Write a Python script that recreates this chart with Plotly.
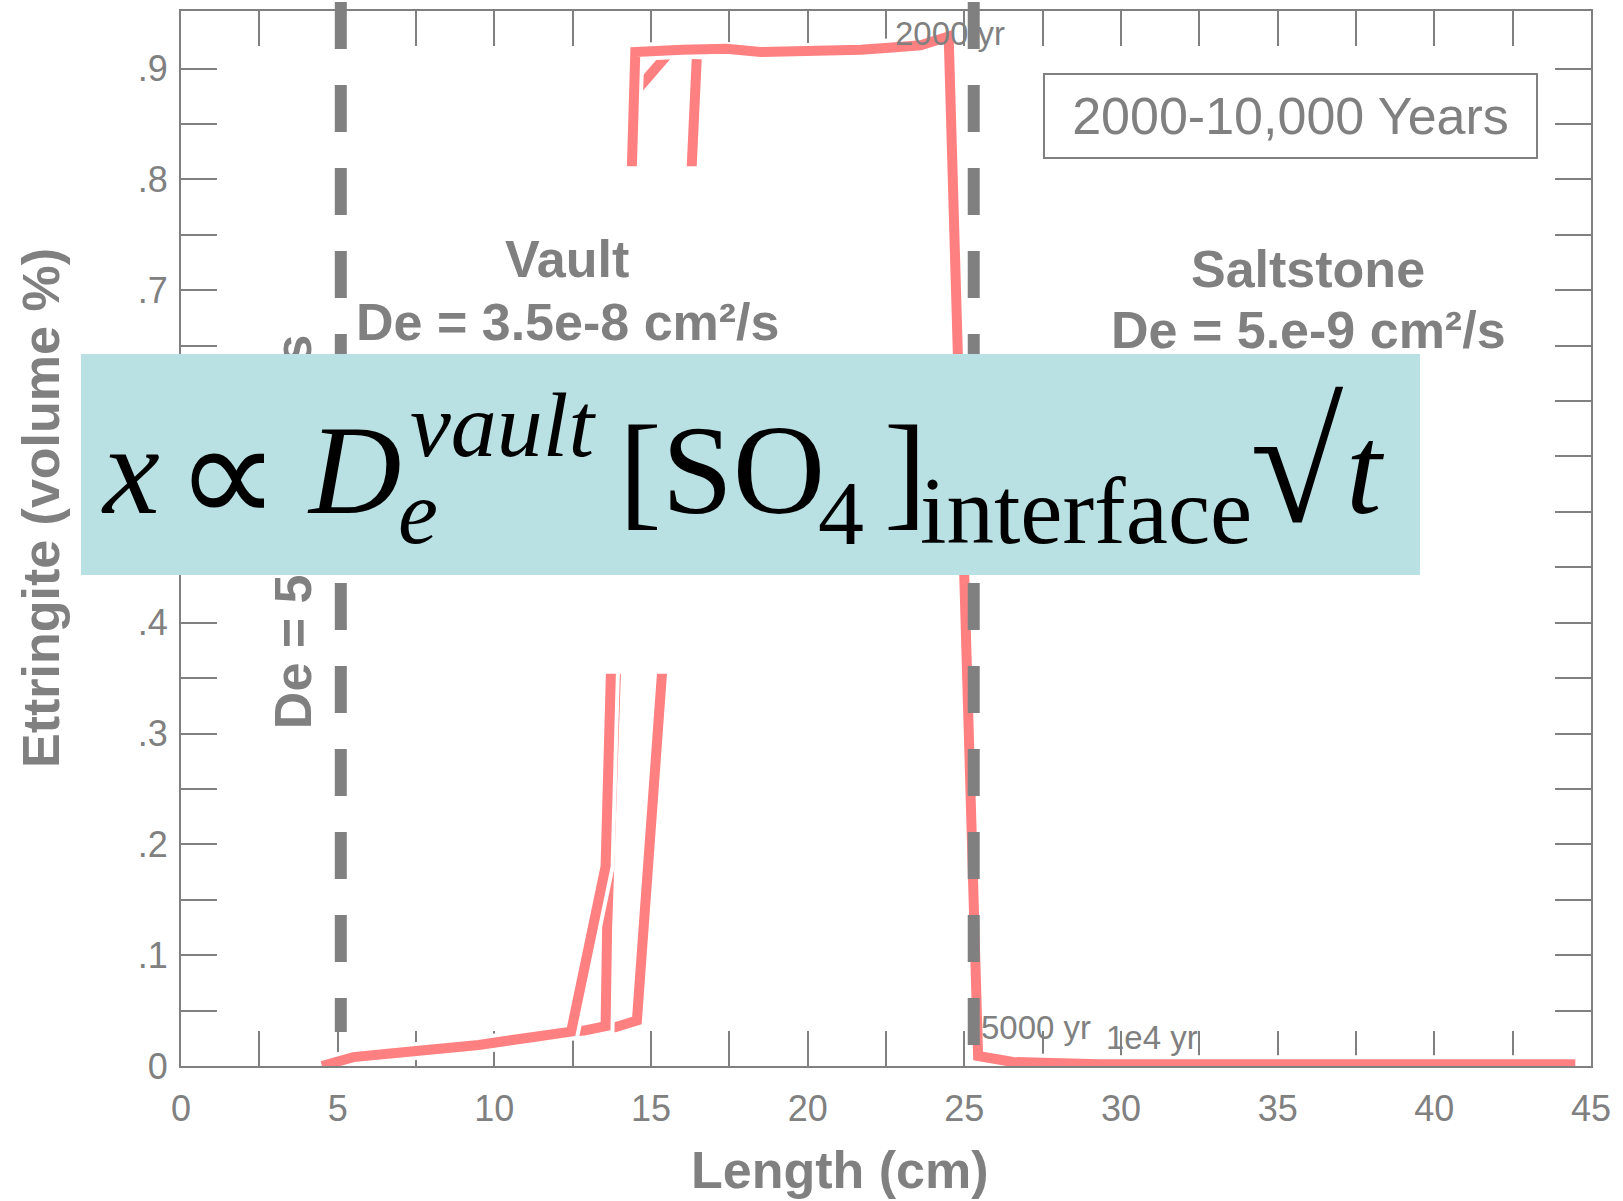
import plotly.graph_objects as go

# ---------------- data ----------------
x_2000yr = [4.5, 5.5, 6.6, 7.5, 9.5, 11.2, 12.45, 13.55, 13.72, 14.39, 14.5, 16.0, 17.4,
            18.5, 20.6, 21.7, 22.7, 23.6, 24.5, 24.77, 25.02, 25.25, 25.38, 25.44, 26.55,
            29.3, 44.5]
y_2000yr = [0.0, 0.008, 0.011, 0.013, 0.019, 0.026, 0.031, 0.18, 0.354, 0.812, 0.915, 0.917,
            0.918, 0.915, 0.915, 0.917, 0.919, 0.921, 0.929, 0.652, 0.438, 0.2, 0.03, 0.009,
            0.0036, 0.0015, 0.0015]
x_5000yr = [12.45, 12.86, 13.55, 13.6, 13.88, 14.4, 14.47, 15.6]
y_5000yr = [0.031, 0.032, 0.036, 0.125, 0.354, 0.80, 0.878, 0.915]
x_1e4yr = [13.5, 13.85, 14.55, 15.35, 16.3, 16.47]
y_1e4yr = [0.035, 0.035, 0.041, 0.354, 0.812, 0.915]

interfaces_x = [5.1, 25.3]          # dashed boundaries (cm)

x_tickvals = [i * 2.5 for i in range(19)]
x_ticktext = [str(int(v)) if v % 5 == 0 else "" for v in x_tickvals]
y_tickvals = [i * 0.05 for i in range(19)]
y_ticktext = ["0", "", ".1", "", ".2", "", ".3", "", ".4", "", ".5", "", ".6", "", ".7", "",
              ".8", "", ".9"]

curve_labels = [("2000 yr", 24.54, 0.932), ("5000 yr", 27.3, 0.035), ("1e4 yr", 31.0, 0.026)]

# ---------------- layout geometry / style ----------------
W, H = 1623, 1201
ML, MR, MT, MB = 181, 32, 9, 135
PW, PH = W - ML - MR, H - MT - MB
GRAY = "#808080"
SALMON = "#ff8080"
SANS = "Liberation Sans, Arial, sans-serif"
SERIF = "Liberation Serif, Times New Roman, serif"


def px(X):
    return (X - ML) / PW


def py(Y):
    return (H - MB - Y) / PH


fig = go.Figure()

for xs, ys, name in [(x_1e4yr, y_1e4yr, "1e4 yr"), (x_5000yr, y_5000yr, "5000 yr"),
                     (x_2000yr, y_2000yr, "2000 yr")]:
    fig.add_trace(go.Scatter(x=xs, y=ys, mode="lines", line=dict(color="white", width=18),
                             hoverinfo="skip", showlegend=False))
    fig.add_trace(go.Scatter(x=xs, y=ys, mode="lines", name=name,
                             line=dict(color=SALMON, width=10), showlegend=False))

shapes = []
# mask hiding the middle of the fronts (as in the original)
shapes.append(dict(type="rect", xref="x", yref="y", x0=13.3, x1=17.0, y0=0.354, y1=0.812,
                   fillcolor="white", line=dict(width=0), layer="above"))
for xv, ybot in zip(interfaces_x, [py(1032), py(1050)]):
    shapes.append(dict(type="line", xref="x", yref="paper", x0=xv, x1=xv, y0=py(0), y1=ybot,
                       line=dict(color=GRAY, width=12, dash="47px,36px"), layer="above"))
# vinculum of the square root
shapes.append(dict(type="line", xref="paper", yref="paper", x0=px(1332), x1=px(1398),
                   y0=py(388), y1=py(388), line=dict(color="black", width=5), layer="above"))


def pann(text, X, Y, size, color=GRAY, **kw):
    d = dict(text=text, x=px(X), y=py(Y), xref="paper", yref="paper", xanchor="center",
             yanchor="middle", showarrow=False, font=dict(family=SANS, size=size, color=color))
    d.update(kw)
    return d


ann = []
# curve labels
for txt, xv, yv in curve_labels:
    ann.append(dict(text=txt, x=xv, y=yv, xref="x", yref="y", showarrow=False,
                    xanchor="center", yanchor="middle",
                    font=dict(family=SANS, size=33, color=GRAY)))

# region labels
for txt, X, Y in [("Vault", 567, 257), ("De = 3.5e-8 cm²/s", 567, 321),
                  ("Saltstone", 1308, 267), ("De = 5.e-9 cm²/s", 1308, 329)]:
    ann.append(pann("<b>" + txt + "</b>", X, Y, 52))

# vertical label (mostly hidden by the formula box)
ann.append(pann("<b>De = 5.e-9 cm²/s</b>", 293, 729, 52, yanchor="bottom", textangle=-90,
                borderpad=0, borderwidth=0))

# time window box
ann.append(pann("2000-10,000 Years", 1290.5, 114, 52, width=491, height=82, borderpad=0,
                borderwidth=2, bordercolor=GRAY))

# axis titles
ann.append(pann("<b>Length (cm)</b>", 840, 1170, 52))
ann.append(pann("<b>Ettringite (volume %)</b>", 41, 507, 52, textangle=-90))

# formula box
ann.append(pann(" ", 750.5, 463.5, 10, width=1339, height=221, borderpad=0, borderwidth=0,
                bgcolor="#b9e0e3"))

SER_K = 0.3375


def fpiece(text, left, base, size, italic=False):
    t = "<i>" + text + "</i>" if italic else text
    return dict(text=t, x=px(left), y=py(base - SER_K * size), xref="paper", yref="paper",
                xanchor="left", yanchor="middle", showarrow=False, borderpad=0, borderwidth=0,
                font=dict(family=SERIF, size=size, color="black"))


ann += [
    fpiece("x", 101, 512, 128, True),
    fpiece("∝", 176, 523, 145),
    fpiece("D", 307, 512, 128, True),
    fpiece("vault", 410, 455, 92, True),
    fpiece("e", 398, 542, 90, True),
    fpiece("[SO", 619, 512, 128),
    fpiece("4", 818, 543, 92),
    fpiece("]", 884, 512, 128),
    fpiece("interface", 920, 542, 95),
    fpiece("√", 1250, 520, 170),
    fpiece("t", 1346, 512, 128, True),
]

fig.update_layout(
    width=W, height=H, margin=dict(l=ML, r=MR, t=MT, b=MB),
    paper_bgcolor="white", plot_bgcolor="white", showlegend=False,
    shapes=shapes, annotations=ann,
    xaxis=dict(range=[0, 45], tickmode="array", tickvals=x_tickvals, ticktext=x_ticktext,
               ticks="inside", ticklen=35, tickwidth=2, tickcolor=GRAY, mirror="ticks",
               showline=True, linecolor=GRAY, linewidth=2, showgrid=False, zeroline=False,
               layer="below traces", ticklabelstandoff=10,
               tickfont=dict(family=SANS, size=36, color=GRAY)),
    yaxis=dict(range=[0, 0.952], tickmode="array", tickvals=y_tickvals, ticktext=y_ticktext,
               ticks="inside", ticklen=36, tickwidth=2, tickcolor=GRAY, mirror="ticks",
               showline=True, linecolor=GRAY, linewidth=2, showgrid=False, zeroline=False,
               layer="below traces", ticklabelstandoff=4,
               tickfont=dict(family=SANS, size=36, color=GRAY)),
)

fig.write_html("out.html")
